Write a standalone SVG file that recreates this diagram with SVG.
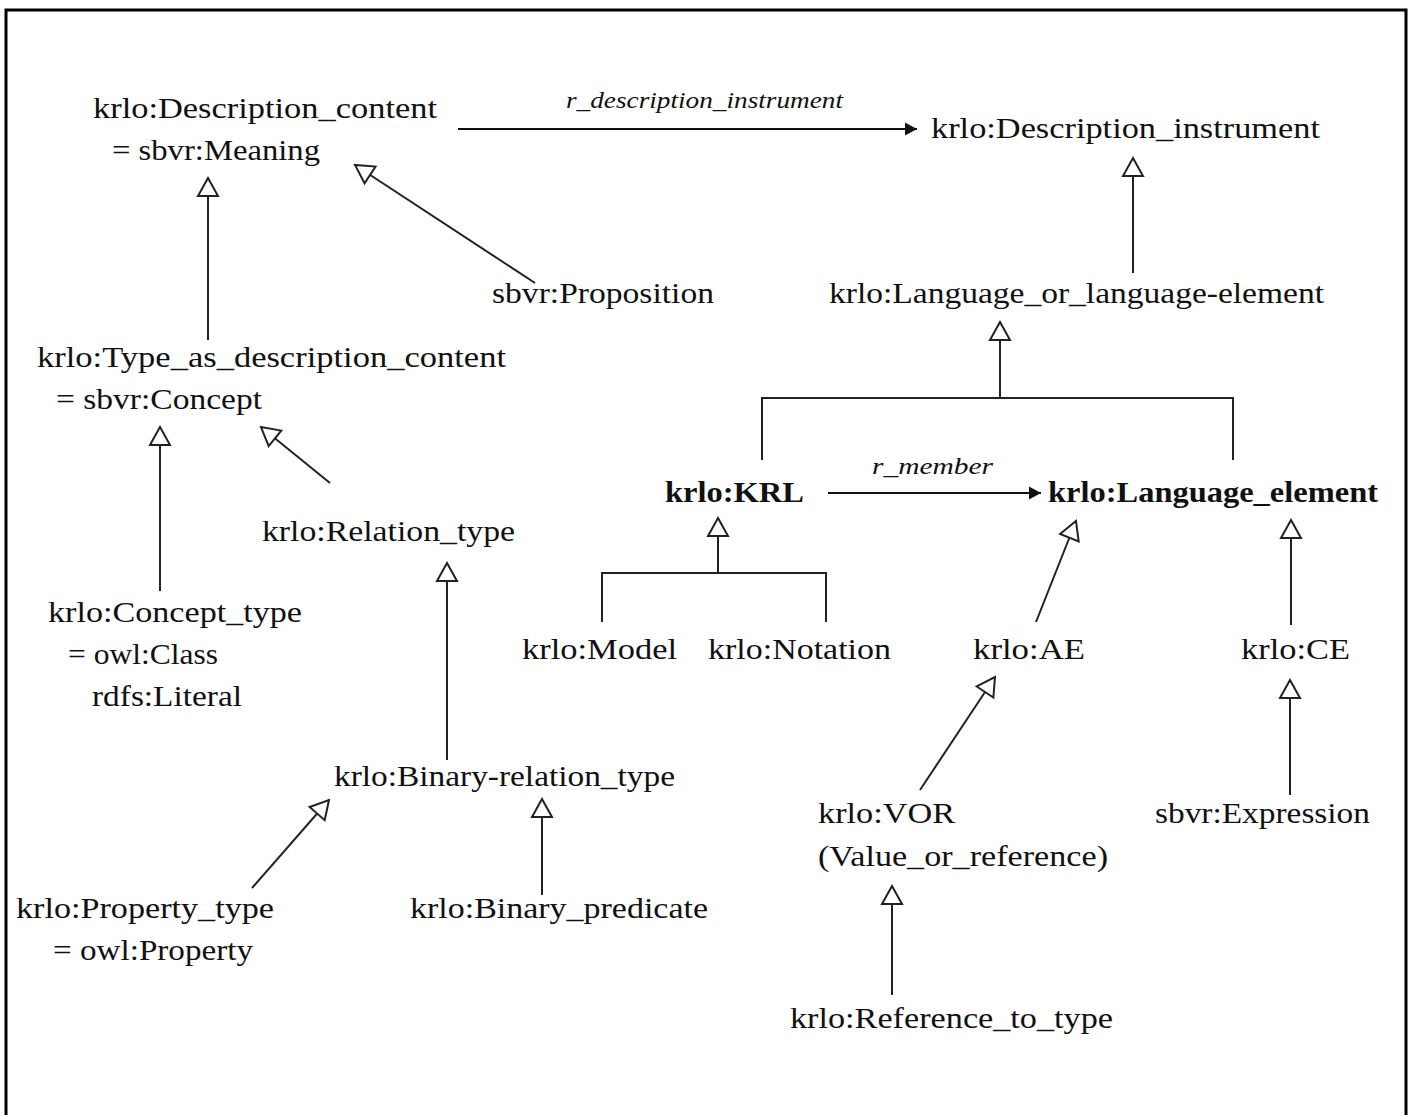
<svg xmlns="http://www.w3.org/2000/svg" width="1411" height="1115" viewBox="0 0 1411 1115">
  <style>
    .lbl { font-family: "Liberation Serif", "Times New Roman", serif; font-size: 30px; fill: #111; }
    .bold { font-weight: bold; }
    .rel { font-family: "Liberation Serif", "Times New Roman", serif; font-size: 23px; font-style: italic; fill: #111; }
    .gen { fill: none; stroke: #222; stroke-width: 2; marker-end: url(#hollow); }
    .assoc { fill: none; stroke: #111; stroke-width: 2; marker-end: url(#solid); }
    .plain { fill: none; stroke: #222; stroke-width: 2; }
  </style>
  <defs>
    <marker id="hollow" viewBox="-2 -12 22 24" refX="18" refY="0" markerWidth="22" markerHeight="24" markerUnits="userSpaceOnUse" orient="auto">
      <path d="M 0 -10 L 18 0 L 0 10 Z" fill="#fff" stroke="#222" stroke-width="2"/>
    </marker>
    <marker id="solid" viewBox="0 -7 13 14" refX="12" refY="0" markerWidth="13" markerHeight="14" markerUnits="userSpaceOnUse" orient="auto">
      <path d="M 0 -6.5 L 12 0 L 0 6.5 Z" fill="#111"/>
    </marker>
  </defs>

  <rect x="0" y="0" width="1411" height="1115" fill="#fff"/>
  <rect x="6" y="10" width="1400" height="1120" fill="none" stroke="#000" stroke-width="3"/>

  <g id="connectors">
    <!-- associations -->
    <line class="assoc" x1="458" y1="129" x2="917" y2="129"/>
    <line class="assoc" x1="828" y1="493" x2="1041" y2="493"/>
    <!-- generalizations -->
    <line class="gen" x1="208" y1="340" x2="208" y2="178"/>
    <line class="gen" x1="535" y1="283" x2="355" y2="165"/>
    <line class="gen" x1="1133" y1="273" x2="1133" y2="158"/>
    <polyline class="plain" points="762,460 762,398 1233,398 1233,460"/>
    <line class="gen" x1="1000" y1="398" x2="1000" y2="322"/>
    <line class="gen" x1="160" y1="591" x2="160" y2="427"/>
    <line class="gen" x1="330" y1="483" x2="261" y2="427"/>
    <line class="gen" x1="447" y1="760" x2="447" y2="563"/>
    <polyline class="plain" points="602,622 602,573 826,573 826,622"/>
    <line class="gen" x1="718" y1="573" x2="718" y2="518"/>
    <line class="gen" x1="1036" y1="622" x2="1076" y2="521"/>
    <line class="gen" x1="1291" y1="625" x2="1291" y2="520"/>
    <line class="gen" x1="920" y1="790" x2="995" y2="677"/>
    <line class="gen" x1="1290" y1="795" x2="1290" y2="680"/>
    <line class="gen" x1="252" y1="888" x2="329" y2="800"/>
    <line class="gen" x1="542" y1="895" x2="542" y2="799"/>
    <line class="gen" x1="892" y1="995" x2="892" y2="886"/>
    <!-- association names -->
    <text class="rel" x="566" y="108" textLength="277" lengthAdjust="spacingAndGlyphs">r_description_instrument</text>
    <text class="rel" x="872" y="474" textLength="121" lengthAdjust="spacingAndGlyphs">r_member</text>
  </g>

  <g id="description_content">
    <text class="lbl" x="93" y="118" textLength="344" lengthAdjust="spacingAndGlyphs">krlo:Description_content</text>
    <text class="lbl" x="112" y="160" textLength="208" lengthAdjust="spacingAndGlyphs">= sbvr:Meaning</text>
  </g>
  <g id="description_instrument">
    <text class="lbl" x="931" y="138" textLength="389" lengthAdjust="spacingAndGlyphs">krlo:Description_instrument</text>
  </g>
  <g id="proposition">
    <text class="lbl" x="492" y="303" textLength="222" lengthAdjust="spacingAndGlyphs">sbvr:Proposition</text>
  </g>
  <g id="language_or_element">
    <text class="lbl" x="829" y="303" textLength="495" lengthAdjust="spacingAndGlyphs">krlo:Language_or_language-element</text>
  </g>
  <g id="type_as_description_content">
    <text class="lbl" x="37" y="367" textLength="469" lengthAdjust="spacingAndGlyphs">krlo:Type_as_description_content</text>
    <text class="lbl" x="56" y="409" textLength="206" lengthAdjust="spacingAndGlyphs">= sbvr:Concept</text>
  </g>
  <g id="relation_type">
    <text class="lbl" x="262" y="541" textLength="253" lengthAdjust="spacingAndGlyphs">krlo:Relation_type</text>
  </g>
  <g id="krl">
    <text class="lbl bold" x="665" y="502" textLength="139" lengthAdjust="spacingAndGlyphs">krlo:KRL</text>
  </g>
  <g id="language_element">
    <text class="lbl bold" x="1048" y="502" textLength="330" lengthAdjust="spacingAndGlyphs">krlo:Language_element</text>
  </g>
  <g id="concept_type">
    <text class="lbl" x="48" y="622" textLength="254" lengthAdjust="spacingAndGlyphs">krlo:Concept_type</text>
    <text class="lbl" x="68" y="664" textLength="150" lengthAdjust="spacingAndGlyphs">= owl:Class</text>
    <text class="lbl" x="92" y="706" textLength="150" lengthAdjust="spacingAndGlyphs">rdfs:Literal</text>
  </g>
  <g id="model">
    <text class="lbl" x="522" y="659" textLength="155" lengthAdjust="spacingAndGlyphs">krlo:Model</text>
  </g>
  <g id="notation">
    <text class="lbl" x="708" y="659" textLength="183" lengthAdjust="spacingAndGlyphs">krlo:Notation</text>
  </g>
  <g id="ae">
    <text class="lbl" x="973" y="659" textLength="112" lengthAdjust="spacingAndGlyphs">krlo:AE</text>
  </g>
  <g id="ce">
    <text class="lbl" x="1241" y="659" textLength="109" lengthAdjust="spacingAndGlyphs">krlo:CE</text>
  </g>
  <g id="binary_relation_type">
    <text class="lbl" x="334" y="786" textLength="341" lengthAdjust="spacingAndGlyphs">krlo:Binary-relation_type</text>
  </g>
  <g id="vor">
    <text class="lbl" x="818" y="823" textLength="137" lengthAdjust="spacingAndGlyphs">krlo:VOR</text>
    <text class="lbl" x="818" y="866" textLength="290" lengthAdjust="spacingAndGlyphs">(Value_or_reference)</text>
  </g>
  <g id="expression">
    <text class="lbl" x="1155" y="823" textLength="215" lengthAdjust="spacingAndGlyphs">sbvr:Expression</text>
  </g>
  <g id="property_type">
    <text class="lbl" x="16" y="918" textLength="258" lengthAdjust="spacingAndGlyphs">krlo:Property_type</text>
    <text class="lbl" x="53" y="960" textLength="200" lengthAdjust="spacingAndGlyphs">= owl:Property</text>
  </g>
  <g id="binary_predicate">
    <text class="lbl" x="410" y="918" textLength="298" lengthAdjust="spacingAndGlyphs">krlo:Binary_predicate</text>
  </g>
  <g id="reference_to_type">
    <text class="lbl" x="790" y="1028" textLength="323" lengthAdjust="spacingAndGlyphs">krlo:Reference_to_type</text>
  </g>
</svg>
